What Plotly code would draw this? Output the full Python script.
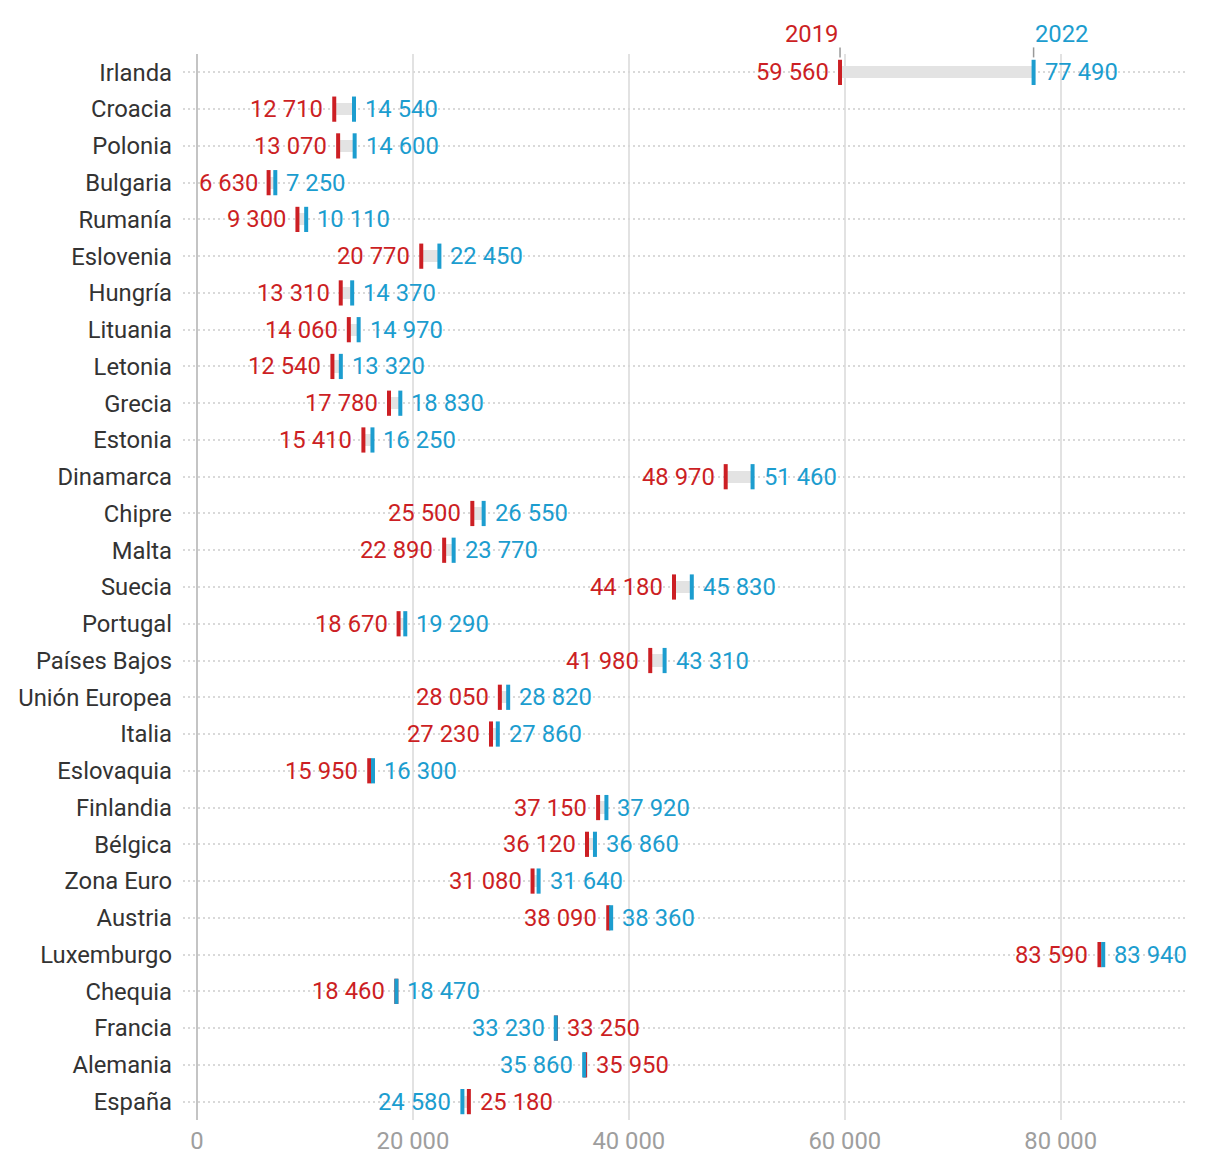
import plotly.graph_objects as go

countries = ["Irlanda", "Croacia", "Polonia", "Bulgaria", "Rumanía", "Eslovenia", "Hungría",
             "Lituania", "Letonia", "Grecia", "Estonia", "Dinamarca", "Chipre", "Malta", "Suecia",
             "Portugal", "Países Bajos", "Unión Europea", "Italia", "Eslovaquia", "Finlandia",
             "Bélgica", "Zona Euro", "Austria", "Luxemburgo", "Chequia", "Francia", "Alemania", "España"]
v2019 = [59560, 12710, 13070, 6630, 9300, 20770, 13310, 14060, 12540, 17780, 15410, 48970, 25500,
         22890, 44180, 18670, 41980, 28050, 27230, 15950, 37150, 36120, 31080, 38090, 83590, 18460,
         33250, 35950, 25180]
v2022 = [77490, 14540, 14600, 7250, 10110, 22450, 14370, 14970, 13320, 18830, 16250, 51460, 26550,
         23770, 45830, 19290, 43310, 28820, 27860, 16300, 37920, 36860, 31640, 38360, 83940, 18470,
         33230, 35860, 24580]
x_ticks = [0, 20000, 40000, 60000, 80000]

RED = "#cc1f24"
BLUE = "#1c9dcf"
FONT = "Roboto"
FS = 23.8

def fmt(v):
    return f"{v:,}".replace(",", " ")

fig = go.Figure()

base = [min(a, b) for a, b in zip(v2019, v2022)]
span = [abs(b - a) for a, b in zip(v2019, v2022)]
fig.add_trace(go.Bar(y=countries, x=span, base=base, orientation="h", width=0.33,
                     marker=dict(color="#e3e3e3", line=dict(width=0)), hoverinfo="skip",
                     showlegend=False))
fig.add_trace(go.Scatter(y=countries, x=v2019, mode="markers", showlegend=False,
                         marker=dict(symbol="line-ns", size=18, line=dict(color=RED, width=4))))
fig.add_trace(go.Scatter(y=countries, x=v2022, mode="markers", showlegend=False,
                         marker=dict(symbol="line-ns", size=18, line=dict(color=BLUE, width=4))))

annotations = []
for c, a, b in zip(countries, v2019, v2022):
    if b >= a:
        left, lcol, right, rcol = a, RED, b, BLUE
    else:
        left, lcol, right, rcol = b, BLUE, a, RED
    annotations.append(dict(x=left, y=c, text=fmt(left), showarrow=False, xanchor="right",
                            xshift=-9, font=dict(color=lcol, size=FS, family=FONT)))
    annotations.append(dict(x=right, y=c, text=fmt(right), showarrow=False, xanchor="left",
                            xshift=9, font=dict(color=rcol, size=FS, family=FONT)))

shapes = []
for val, label, col, anchor in [(v2019[0], "2019", RED, "right"), (v2022[0], "2022", BLUE, "left")]:
    annotations.append(dict(x=val, y=1.0045, yref="paper", yanchor="bottom", text=label,
                            showarrow=False, xanchor=anchor, borderpad=0,
                            font=dict(color=col, size=FS, family=FONT)))
    shapes.append(dict(type="line", x0=val, x1=val, yref="paper", y0=0.9968, y1=1.0062,
                       line=dict(color="#999999", width=1.5)))

fig.update_layout(
    width=1220, height=1164,
    margin=dict(l=175, r=41, t=46, b=52),
    plot_bgcolor="white", paper_bgcolor="white",
    separators=", ",
    font=dict(family=FONT, size=FS, color="#333333"),
    bargap=0,
    annotations=annotations,
    shapes=shapes,
    xaxis=dict(range=[-1300, 91700], tickvals=x_ticks, tickformat=",d", automargin=False,
               showgrid=True, gridcolor="#e2e2e2", gridwidth=2,
               zeroline=True, zerolinecolor="#c4c4c4", zerolinewidth=2,
               tickfont=dict(color="#9e9e9e", size=FS), ticks="", ticklabelstandoff=4,
               showline=False),
    yaxis=dict(categoryorder="array", categoryarray=countries, range=[28.5, -0.5],
               automargin=False,
               showgrid=True, gridcolor="#d9d9d9", griddash="2px,3px", gridwidth=2,
               ticks="", ticklabelstandoff=10, showline=False, zeroline=False,
               tickfont=dict(color="#333333", size=FS)),
)

fig.write_html("out.html")
